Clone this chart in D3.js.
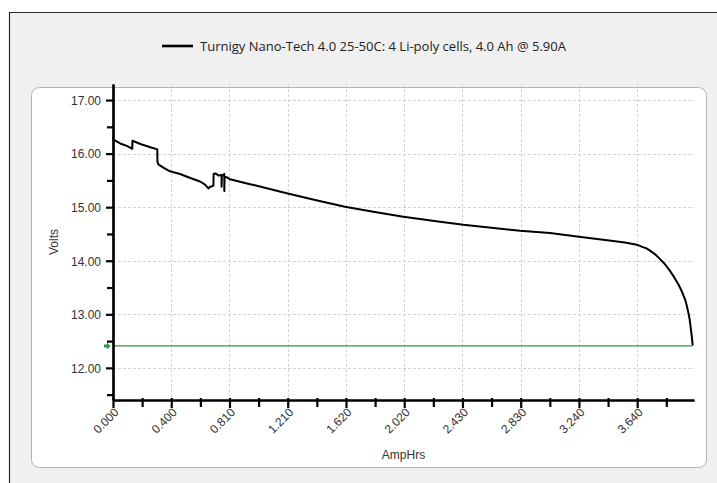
<!DOCTYPE html>
<html>
<head>
<meta charset="utf-8">
<script src="https://cdn.jsdelivr.net/npm/d3@7"></script>
<style>
  html, body { margin: 0; padding: 0; background: #ffffff; }
  svg { display: block; }
</style>
</head>
<body>
<svg id="chart" width="717" height="483"></svg>
<script>
// ---------- data ----------
const seriesName = "Turnigy Nano-Tech 4.0 25-50C: 4 Li-poly cells, 4.0 Ah @ 5.90A";
const ampHrs = [0.000, 0.003, 0.050, 0.100, 0.134, 0.135, 0.200, 0.260, 0.308, 0.309, 0.315, 0.350, 0.396, 0.466, 0.524, 0.605, 0.640, 0.663, 0.675, 0.698, 0.700, 0.713, 0.735, 0.755, 0.755, 0.757, 0.774, 0.774, 0.776, 0.790, 0.814, 0.953, 1.000, 1.208, 1.413, 1.613, 1.820, 2.019, 2.274, 2.436, 2.830, 3.039, 3.240, 3.450, 3.560, 3.642, 3.680, 3.710, 3.734, 3.770, 3.804, 3.840, 3.873, 3.905, 3.931, 3.955, 3.978, 3.990, 4.001, 4.010, 4.017, 4.025, 4.031];
const volts  = [16.32, 16.26, 16.19, 16.14, 16.09, 16.24, 16.17, 16.12, 16.08, 15.85, 15.80, 15.74, 15.67, 15.62, 15.56, 15.48, 15.42, 15.35, 15.38, 15.40, 15.62, 15.63, 15.59, 15.60, 15.38, 15.58, 15.62, 15.30, 15.57, 15.56, 15.52, 15.43, 15.40, 15.26, 15.13, 15.01, 14.91, 14.82, 14.73, 14.67, 14.56, 14.52, 14.45, 14.38, 14.34, 14.30, 14.26, 14.23, 14.19, 14.12, 14.03, 13.93, 13.81, 13.68, 13.56, 13.43, 13.28, 13.16, 13.03, 12.90, 12.75, 12.58, 12.42];
const cutoffVolts = 12.41;
const xTickValues = [0, 0.405, 0.81, 1.215, 1.62, 2.025, 2.43, 2.835, 3.24, 3.645];
const xTickLabels = ["0.000", "0.400", "0.810", "1.210", "1.620", "2.020", "2.430", "2.830", "3.240", "3.640"];
const xMinorTicks = [0.2025, 0.6075, 1.0125, 1.4175, 1.8225, 2.2275, 2.6325, 3.0375, 3.4425, 3.8475];
const yTickValues = [12, 13, 14, 15, 16, 17];
const yTickLabels = ["12.00", "13.00", "14.00", "15.00", "16.00", "17.00"];
const yMinorTicks = [11.5, 12.5, 13.5, 14.5, 15.5, 16.5];
const xTitle = "AmpHrs";
const yTitle = "Volts";

// ---------- layout ----------
const svg = d3.select("#chart");
const plot = { left: 113, right: 694, top: 84, bottom: 400 };
const x = d3.scaleLinear().domain([0, 4.04]).range([plot.left, plot.right]);
const y = d3.scaleLinear().domain([11.4, 17.3]).range([plot.bottom, plot.top]);

// outer panel
svg.append("rect").attr("x", 9).attr("y", 12).attr("width", 720).attr("height", 480)
  .attr("fill", "#f0f0f0");
svg.append("path").attr("d", "M9.5,483 V12.5 H717").attr("fill", "none")
  .attr("stroke", "#2a2a2a").attr("stroke-width", 1.2);

// legend
svg.append("line").attr("x1", 162).attr("x2", 193).attr("y1", 46).attr("y2", 46)
  .attr("stroke", "#000").attr("stroke-width", 2.6);
svg.append("text").attr("x", 200).attr("y", 50.5)
  .attr("font-family", "'Segoe UI','Open Sans',sans-serif").attr("font-size", 12.5)
  .attr("textLength", 366).attr("lengthAdjust", "spacingAndGlyphs")
  .attr("fill", "#222").text(seriesName);

// inner panel
svg.append("rect").attr("x", 31.5).attr("y", 87.5).attr("width", 675).attr("height", 380)
  .attr("rx", 8).attr("ry", 8).attr("fill", "#ffffff").attr("stroke", "#b4b4b4").attr("stroke-width", 1);

// grid
const grid = svg.append("g");
grid.selectAll("line.vg").data(xTickValues.slice(1)).join("line")
  .attr("x1", d => Math.round(x(d)) + 0.5).attr("x2", d => Math.round(x(d)) + 0.5)
  .attr("y1", plot.top).attr("y2", plot.bottom)
  .attr("stroke", "#d4d4d4").attr("stroke-dasharray", "3,2");
grid.selectAll("line.hg").data(yTickValues).join("line")
  .attr("x1", plot.left).attr("x2", plot.right)
  .attr("y1", d => Math.round(y(d)) + 0.5).attr("y2", d => Math.round(y(d)) + 0.5)
  .attr("stroke", "#d4d4d4").attr("stroke-dasharray", "3,2");

// cutoff line
svg.append("line").attr("x1", plot.left).attr("x2", x(4.031))
  .attr("y1", y(cutoffVolts)).attr("y2", y(cutoffVolts))
  .attr("stroke", "#2e9a3c").attr("stroke-width", 1.2);
const ay = y(cutoffVolts);
svg.append("path")
  .attr("d", `M104,${ay-1.5} H107 V${ay-3.5} L110.5,${ay} L107,${ay+3.5} V${ay+1.5} H104 Z`)
  .attr("fill", "#2e9a3c");

// data line
svg.append("path")
  .datum(ampHrs.map((a, i) => [a, volts[i]]))
  .attr("d", d3.line().x(d => x(d[0])).y(d => y(d[1])))
  .attr("fill", "none").attr("stroke", "#000").attr("stroke-width", 2)
  .attr("stroke-linejoin", "round");

// axes
const tickFont = "'Liberation Sans',Arial,sans-serif";
const yAxis = svg.append("g").attr("transform", `translate(${plot.left},0)`)
  .call(d3.axisLeft(y).tickValues(yTickValues).tickFormat((d, i) => yTickLabels[i]).tickSize(7).tickSizeOuter(0).tickPadding(5));
const yMinor = svg.append("g").attr("transform", `translate(${plot.left},0)`)
  .call(d3.axisLeft(y).tickValues(yMinorTicks).tickFormat("").tickSize(6).tickSizeOuter(0));
const xAxis = svg.append("g").attr("transform", `translate(0,${plot.bottom})`)
  .call(d3.axisBottom(x).tickValues(xTickValues).tickFormat((d, i) => xTickLabels[i]).tickSize(8).tickSizeOuter(0));
const xMinor = svg.append("g").attr("transform", `translate(0,${plot.bottom})`)
  .call(d3.axisBottom(x).tickValues(xMinorTicks).tickFormat("").tickSize(7).tickSizeOuter(0));

[yAxis, yMinor, xAxis, xMinor].forEach(g => {
  g.select(".domain").attr("stroke", "#000").attr("stroke-width", 2.2);
  g.selectAll(".tick line").attr("stroke", "#000").attr("stroke-width", 2.2);
  g.selectAll("text").attr("font-family", tickFont).attr("font-size", 12).attr("fill", "#333");
});
[xAxis, xMinor].forEach(g => g.selectAll(".tick line").attr("y1", -2));
yAxis.selectAll(".tick text").attr("dy", "0.36em");
xAxis.selectAll(".tick text")
  .attr("text-anchor", "end")
  .attr("transform", "translate(3,10) rotate(-45)")
  .attr("y", 0).attr("dy", "0.35em").attr("x", 0);

// titles
svg.append("text").attr("x", (plot.left + plot.right) / 2).attr("y", 459)
  .attr("text-anchor", "middle").attr("font-family", tickFont).attr("font-size", 12)
  .attr("fill", "#333").text(xTitle);
svg.append("text").attr("transform", `translate(58,${(plot.top + plot.bottom) / 2}) rotate(-90)`)
  .attr("text-anchor", "middle").attr("font-family", tickFont).attr("font-size", 12)
  .attr("fill", "#333").text(yTitle);
</script>
</body>
</html>
